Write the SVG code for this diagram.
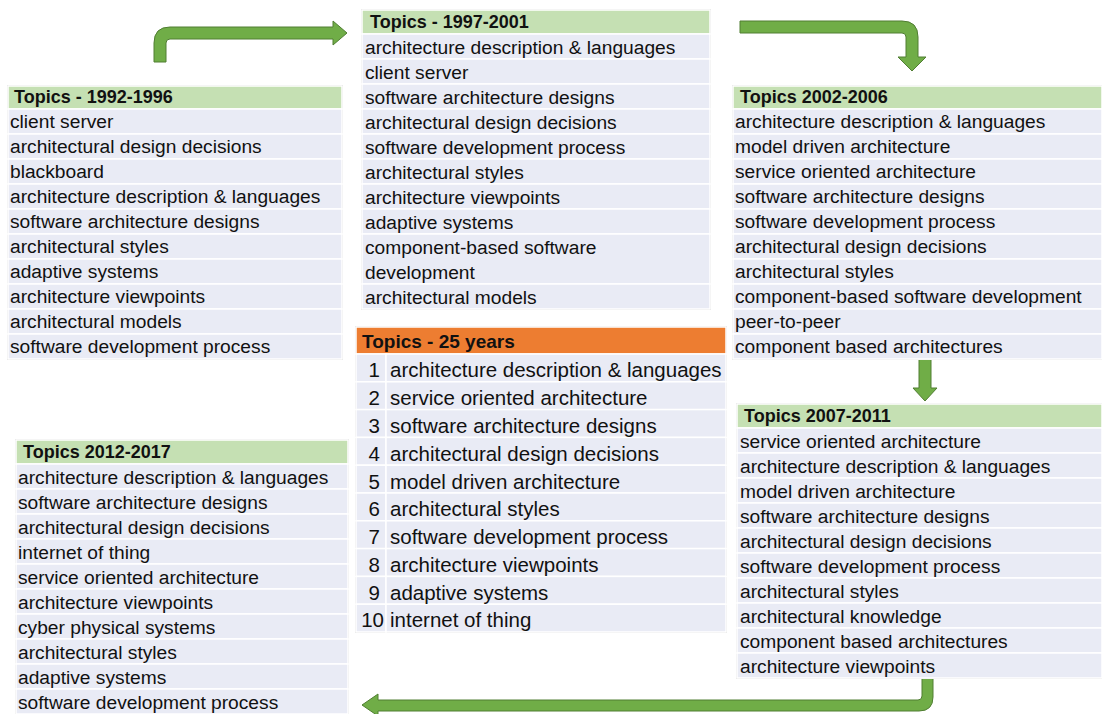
<svg xmlns="http://www.w3.org/2000/svg" width="1102" height="714" viewBox="0 0 1102 714">
<style>
text{font-family:"Liberation Sans",Arial,sans-serif;fill:#111;}
.t{font-size:19.2px;}
.h{font-size:18px;font-weight:bold;}
.t6{font-size:20.5px;}
.h6{font-size:19px;font-weight:bold;}
.n{font-size:20.5px;text-anchor:end;}
.frame{fill:#fff;stroke:#d4d4d4;stroke-width:1;}
.row{fill:#e9ebf5;stroke:#fff;stroke-width:1.5;}
.hg{fill:#c5e0b3;stroke:#fff;stroke-width:1.5;}
.ho{fill:#ed7d31;stroke:#fff;stroke-width:1.5;}
.arr{fill:#70ad47;stroke:#507e32;stroke-width:1;}
</style>
<rect width="1102" height="714" fill="#fff"/>

<g id="connectors">
<path class="arr" d="M154,62 L154,43 Q154,27 170,27 L333,27 L333,21 L347,33 L333,45 L333,39 L170,39 Q166,39 166,43 L166,62 Z"/>
<path class="arr" d="M740,21 L740,33 L902,33 Q906,33 906,37 L906,57 L898,57 L912,71 L926,57 L918,57 L918,37 Q918,21 902,21 Z"/>
<path class="arr" d="M919,358 L931,358 L931,388 L937,388 L925,401 L913,388 L919,388 Z"/>
<path class="arr" d="M922,678 L933,678 L933,697 Q933,711 919,711 L378,711 L378,716 L362,705 L378,694 L378,700 L918,700 Q922,700 922,696 Z"/>
</g>

<g id="t1992">
<rect class="frame" x="7.5" y="85.5" width="335" height="274"/>
<rect class="hg" x="8" y="86" width="334" height="23"/>
<rect class="row" x="8" y="109" width="334" height="25"/>
<rect class="row" x="8" y="134" width="334" height="25"/>
<rect class="row" x="8" y="159" width="334" height="25"/>
<rect class="row" x="8" y="184" width="334" height="25"/>
<rect class="row" x="8" y="209" width="334" height="25"/>
<rect class="row" x="8" y="234" width="334" height="25"/>
<rect class="row" x="8" y="259" width="334" height="25"/>
<rect class="row" x="8" y="284" width="334" height="25"/>
<rect class="row" x="8" y="309" width="334" height="25"/>
<rect class="row" x="8" y="334" width="334" height="25"/>
<text class="h" x="14" y="103">Topics - 1992-1996</text>
<text class="t" x="10" y="128">client server</text>
<text class="t" x="10" y="153">architectural design decisions</text>
<text class="t" x="10" y="178">blackboard</text>
<text class="t" x="10" y="203">architecture description &amp; languages</text>
<text class="t" x="10" y="228">software architecture designs</text>
<text class="t" x="10" y="253">architectural styles</text>
<text class="t" x="10" y="278">adaptive systems</text>
<text class="t" x="10" y="303">architecture viewpoints</text>
<text class="t" x="10" y="328">architectural models</text>
<text class="t" x="10" y="353">software development process</text>
</g>

<g id="t1997">
<rect class="frame" x="361.5" y="9.5" width="349" height="300"/>
<rect class="hg" x="362" y="10" width="348" height="24"/>
<rect class="row" x="362" y="34" width="348" height="25"/>
<rect class="row" x="362" y="59" width="348" height="25"/>
<rect class="row" x="362" y="84" width="348" height="25"/>
<rect class="row" x="362" y="109" width="348" height="25"/>
<rect class="row" x="362" y="134" width="348" height="25"/>
<rect class="row" x="362" y="159" width="348" height="25"/>
<rect class="row" x="362" y="184" width="348" height="25"/>
<rect class="row" x="362" y="209" width="348" height="25"/>
<rect class="row" x="362" y="234" width="348" height="50"/>
<rect class="row" x="362" y="284" width="348" height="25"/>
<text class="h" x="370" y="28">Topics - 1997-2001</text>
<text class="t" x="365" y="54">architecture description &amp; languages</text>
<text class="t" x="365" y="79">client server</text>
<text class="t" x="365" y="104">software architecture designs</text>
<text class="t" x="365" y="129">architectural design decisions</text>
<text class="t" x="365" y="154">software development process</text>
<text class="t" x="365" y="179">architectural styles</text>
<text class="t" x="365" y="204">architecture viewpoints</text>
<text class="t" x="365" y="229">adaptive systems</text>
<text class="t" x="365" y="254">component-based software</text>
<text class="t" x="365" y="279">development</text>
<text class="t" x="365" y="304">architectural models</text>
</g>

<g id="t2002">
<rect class="frame" x="732.5" y="85.5" width="370" height="274"/>
<rect class="hg" x="733" y="86" width="369" height="23"/>
<rect class="row" x="733" y="109" width="369" height="25"/>
<rect class="row" x="733" y="134" width="369" height="25"/>
<rect class="row" x="733" y="159" width="369" height="25"/>
<rect class="row" x="733" y="184" width="369" height="25"/>
<rect class="row" x="733" y="209" width="369" height="25"/>
<rect class="row" x="733" y="234" width="369" height="25"/>
<rect class="row" x="733" y="259" width="369" height="25"/>
<rect class="row" x="733" y="284" width="369" height="25"/>
<rect class="row" x="733" y="309" width="369" height="25"/>
<rect class="row" x="733" y="334" width="369" height="25"/>
<text class="h" x="740" y="103">Topics 2002-2006</text>
<text class="t" x="735" y="128">architecture description &amp; languages</text>
<text class="t" x="735" y="153">model driven architecture</text>
<text class="t" x="735" y="178">service oriented architecture</text>
<text class="t" x="735" y="203">software architecture designs</text>
<text class="t" x="735" y="228">software development process</text>
<text class="t" x="735" y="253">architectural design decisions</text>
<text class="t" x="735" y="278">architectural styles</text>
<text class="t" x="735" y="303">component-based software development</text>
<text class="t" x="735" y="328">peer-to-peer</text>
<text class="t" x="735" y="353">component based architectures</text>
</g>

<g id="t2007">
<rect class="frame" x="736.5" y="403.5" width="366" height="275"/>
<rect class="hg" x="737" y="404" width="365" height="24"/>
<rect class="row" x="737" y="428" width="365" height="25"/>
<rect class="row" x="737" y="453" width="365" height="25"/>
<rect class="row" x="737" y="478" width="365" height="25"/>
<rect class="row" x="737" y="503" width="365" height="25"/>
<rect class="row" x="737" y="528" width="365" height="25"/>
<rect class="row" x="737" y="553" width="365" height="25"/>
<rect class="row" x="737" y="578" width="365" height="25"/>
<rect class="row" x="737" y="603" width="365" height="25"/>
<rect class="row" x="737" y="628" width="365" height="25"/>
<rect class="row" x="737" y="653" width="365" height="25"/>
<text class="h" x="744" y="422">Topics 2007-2011</text>
<text class="t" x="740" y="447.5">service oriented architecture</text>
<text class="t" x="740" y="472.5">architecture description &amp; languages</text>
<text class="t" x="740" y="497.5">model driven architecture</text>
<text class="t" x="740" y="522.5">software architecture designs</text>
<text class="t" x="740" y="547.5">architectural design decisions</text>
<text class="t" x="740" y="572.5">software development process</text>
<text class="t" x="740" y="597.5">architectural styles</text>
<text class="t" x="740" y="622.5">architectural knowledge</text>
<text class="t" x="740" y="647.5">component based architectures</text>
<text class="t" x="740" y="672.5">architecture viewpoints</text>
</g>

<g id="t2012">
<rect class="frame" x="15.5" y="439.5" width="333" height="275"/>
<rect class="hg" x="16" y="440" width="332" height="24"/>
<rect class="row" x="16" y="464" width="332" height="25"/>
<rect class="row" x="16" y="489" width="332" height="25"/>
<rect class="row" x="16" y="514" width="332" height="25"/>
<rect class="row" x="16" y="539" width="332" height="25"/>
<rect class="row" x="16" y="564" width="332" height="25"/>
<rect class="row" x="16" y="589" width="332" height="25"/>
<rect class="row" x="16" y="614" width="332" height="25"/>
<rect class="row" x="16" y="639" width="332" height="25"/>
<rect class="row" x="16" y="664" width="332" height="25"/>
<rect class="row" x="16" y="689" width="332" height="25"/>
<text class="h" x="23" y="458">Topics 2012-2017</text>
<text class="t" x="18" y="483.5">architecture description &amp; languages</text>
<text class="t" x="18" y="508.5">software architecture designs</text>
<text class="t" x="18" y="533.5">architectural design decisions</text>
<text class="t" x="18" y="558.5">internet of thing</text>
<text class="t" x="18" y="583.5">service oriented architecture</text>
<text class="t" x="18" y="608.5">architecture viewpoints</text>
<text class="t" x="18" y="633.5">cyber physical systems</text>
<text class="t" x="18" y="658.5">architectural styles</text>
<text class="t" x="18" y="683.5">adaptive systems</text>
<text class="t" x="18" y="708.5">software development process</text>
</g>

<g id="t25years">
<rect class="frame" x="355.5" y="326.5" width="371" height="306"/>
<rect class="ho" x="356" y="327" width="370" height="27"/>
<rect class="row" x="356" y="354" width="30" height="27.8"/>
<rect class="row" x="386" y="354" width="340" height="27.8"/>
<rect class="row" x="356" y="381.8" width="30" height="27.8"/>
<rect class="row" x="386" y="381.8" width="340" height="27.8"/>
<rect class="row" x="356" y="409.6" width="30" height="27.8"/>
<rect class="row" x="386" y="409.6" width="340" height="27.8"/>
<rect class="row" x="356" y="437.4" width="30" height="27.8"/>
<rect class="row" x="386" y="437.4" width="340" height="27.8"/>
<rect class="row" x="356" y="465.2" width="30" height="27.8"/>
<rect class="row" x="386" y="465.2" width="340" height="27.8"/>
<rect class="row" x="356" y="493" width="30" height="27.8"/>
<rect class="row" x="386" y="493" width="340" height="27.8"/>
<rect class="row" x="356" y="520.8" width="30" height="27.8"/>
<rect class="row" x="386" y="520.8" width="340" height="27.8"/>
<rect class="row" x="356" y="548.6" width="30" height="27.8"/>
<rect class="row" x="386" y="548.6" width="340" height="27.8"/>
<rect class="row" x="356" y="576.4" width="30" height="27.8"/>
<rect class="row" x="386" y="576.4" width="340" height="27.8"/>
<rect class="row" x="356" y="604.2" width="30" height="27.8"/>
<rect class="row" x="386" y="604.2" width="340" height="27.8"/>
<text class="h6" x="362" y="347.5">Topics - 25 years</text>
<text class="n" x="380" y="376.5">1</text>
<text class="n" x="380" y="404.5">2</text>
<text class="n" x="380" y="432.5">3</text>
<text class="n" x="380" y="460.5">4</text>
<text class="n" x="380" y="488.5">5</text>
<text class="n" x="380" y="515.5">6</text>
<text class="n" x="380" y="543.5">7</text>
<text class="n" x="380" y="571.5">8</text>
<text class="n" x="380" y="599.5">9</text>
<text class="n" x="384" y="626.5">10</text>
<text class="t6" x="390" y="376.5">architecture description &amp; languages</text>
<text class="t6" x="390" y="404.5">service oriented architecture</text>
<text class="t6" x="390" y="432.5">software architecture designs</text>
<text class="t6" x="390" y="460.5">architectural design decisions</text>
<text class="t6" x="390" y="488.5">model driven architecture</text>
<text class="t6" x="390" y="515.5">architectural styles</text>
<text class="t6" x="390" y="543.5">software development process</text>
<text class="t6" x="390" y="571.5">architecture viewpoints</text>
<text class="t6" x="390" y="599.5">adaptive systems</text>
<text class="t6" x="390" y="626.5">internet of thing</text>
</g>
</svg>
